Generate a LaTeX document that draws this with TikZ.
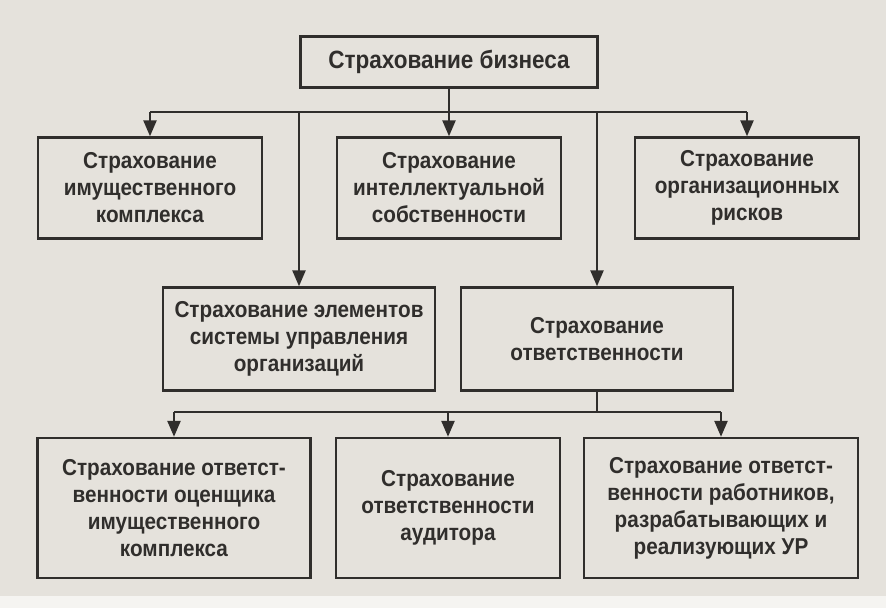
\documentclass[tikz,border=0pt]{standalone}
\usepackage{fontspec}
\setmainfont{Liberation Sans}[FakeStretch=0.9]
\usetikzlibrary{arrows.meta}
\definecolor{paper}{RGB}{229,226,220}
\definecolor{ink}{RGB}{48,46,44}
\tikzset{
  box/.style={draw=ink, line width=2.4pt, text=ink, align=center,
    font=\fontsize{23}{27}\selectfont\bfseries, inner sep=0pt},
  conn/.style={draw=ink, line width=2.4pt},
  arr/.style={conn, -{Triangle[length=16pt,width=13pt]}}
}
\begin{document}
\begin{tikzpicture}[x=1pt,y=-1pt]
\fill[paper] (0,0) rectangle (886,608);
\fill[white!60!paper] (0,596) rectangle (886,608);
\useasboundingbox (0,0) rectangle (886,608);

\node[box, minimum width=297pt, minimum height=51pt, font=\fontsize{25}{27}\selectfont\bfseries] (top) at (449,62) {Страхование бизнеса};

\node[box, minimum width=224pt, minimum height=101pt] (a1) at (150,188) {Страхование\\имущественного\\комплекса};
\node[box, minimum width=224pt, minimum height=101pt] (a2) at (449,188) {Страхование\\интеллектуальной\\собственности};
\node[box, minimum width=224pt, minimum height=101pt] (a3) at (747,188) {Страхование\\организационных\\рисков};

\node[box, minimum width=272pt, minimum height=103pt] (b1) at (299,339) {Страхование элементов\\системы управления\\организаций};
\node[box, minimum width=272pt, minimum height=103pt] (b2) at (597,339) {Страхование\\ответственности};

\node[box, minimum width=273pt, minimum height=140pt] (c1) at (174,508) {Страхование ответст-\\венности оценщика\\имущественного\\комплекса};
\node[box, minimum width=224pt, minimum height=140pt] (c2) at (448,508) {Страхование\\ответственности\\аудитора};
\node[box, minimum width=274pt, minimum height=140pt] (c3) at (721,508) {Страхование ответст-\\венности работников,\\разрабатывающих и\\реализующих УР};

\coordinate (bus) at (0,112);
\coordinate (bus2) at (0,412);

\draw[arr] (top.south) -- (a2.north);
\draw[conn] (a1.north |- bus) -- (a3.north |- bus);
\draw[arr] (a1.north |- bus) -- (a1.north);
\draw[arr] (a3.north |- bus) -- (a3.north);
\draw[arr] (b1.north |- bus) -- (b1.north);
\draw[arr] (b2.north |- bus) -- (b2.north);

\draw[conn] (b2.south) -- (b2.south |- bus2);
\draw[conn] (c1.north |- bus2) -- (c3.north |- bus2);
\draw[arr] (c1.north |- bus2) -- (c1.north);
\draw[arr] (c2.north |- bus2) -- (c2.north);
\draw[arr] (c3.north |- bus2) -- (c3.north);
\end{tikzpicture}
\end{document}
